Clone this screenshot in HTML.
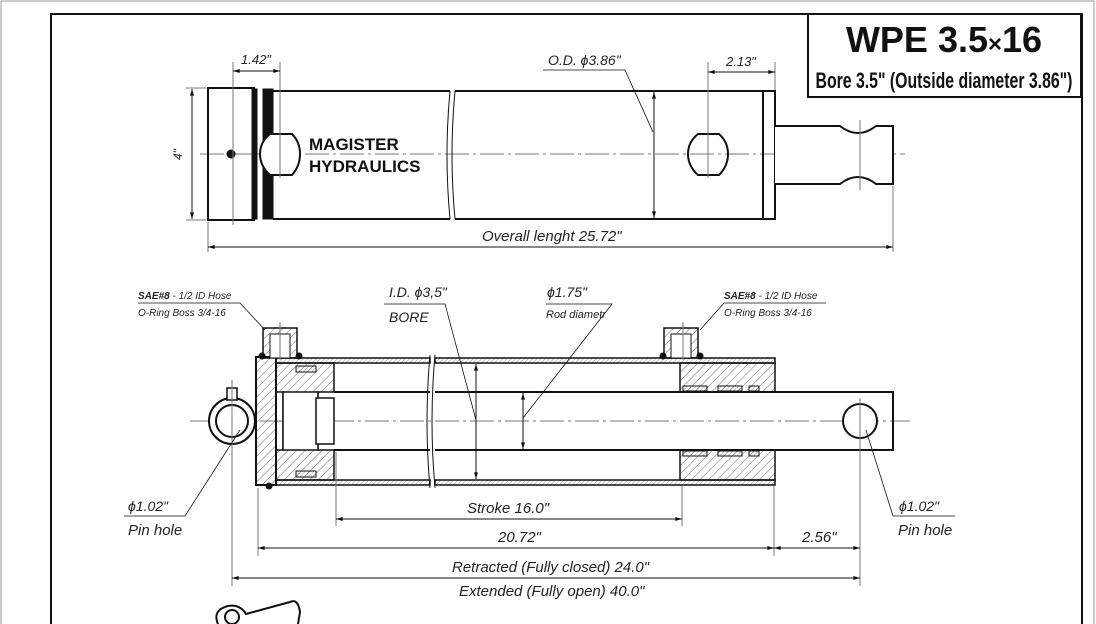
<!DOCTYPE html>
<html><head><style>
html,body{margin:0;padding:0;background:#fff;}
svg{display:block;}
.t{font-family:"Liberation Sans",sans-serif;font-style:italic;fill:#222;}
</style></head><body>
<svg width="1096" height="624" viewBox="0 0 1096 624" xmlns="http://www.w3.org/2000/svg">
<defs>
<pattern id="h" width="6" height="6" patternUnits="userSpaceOnUse" patternTransform="rotate(45)"><line x1="0" y1="0" x2="0" y2="6" stroke="#444" stroke-width="0.8"/></pattern>
<pattern id="hf" width="3" height="3" patternUnits="userSpaceOnUse" patternTransform="rotate(45)"><line x1="0" y1="0" x2="0" y2="3" stroke="#555" stroke-width="0.6"/></pattern>
<marker id="a" viewBox="0 0 10 6" refX="10" refY="3" markerWidth="10" markerHeight="4" orient="auto-start-reverse" markerUnits="userSpaceOnUse"><path d="M0,0 L10,3 L0,6z" fill="#111"/></marker>
</defs>
<rect x="0" y="0" width="1096" height="624" fill="#fff"/>
<path d="M1,624 V1 H1094 V624" fill="none" stroke="#999" stroke-width="1"/>
<!-- frame -->
<path d="M51,624 V14 H1082 V624" fill="none" stroke="#111" stroke-width="2"/>
<rect x="808" y="14" width="273" height="83" fill="#fff" stroke="#111" stroke-width="2"/>
<text x="944" y="52" text-anchor="middle" font-family="Liberation Sans,sans-serif" font-weight="bold" font-size="36" fill="#111">WPE 3.5<tspan font-size="24">×</tspan>16</text>
<text x="944" y="88" text-anchor="middle" font-family="Liberation Sans,sans-serif" font-weight="bold" font-size="22" fill="#111" transform="translate(944 0) scale(0.72 1) translate(-944 0)">Bore 3.5" (Outside diameter 3.86")</text>

<g stroke="#111" fill="none">
<!-- TOP VIEW -->
<line x1="200" y1="154" x2="905" y2="154" stroke="#777" stroke-width="1" stroke-dasharray="24 4 3 4"/>
<rect x="208" y="88" width="46" height="132" stroke-width="2"/>
<rect x="252" y="89" width="5" height="130" fill="#111"/>
<rect x="263" y="89" width="10" height="130" fill="#111"/>
<path d="M273,91 H450 M273,219 H450 M455,91 H775 V219 H455" stroke-width="2"/>
<path d="M450,91 Q444,155 450,219 M455,91 Q449,155 455,219" stroke-width="1"/>
<line x1="763" y1="91" x2="763" y2="219" stroke-width="2"/>
<path d="M775,126 H840 Q849,133 858,133 Q867,133 876,126 H893 V184 H876 Q867,177 858,177 Q849,177 840,184 H775" stroke-width="2" fill="#fff"/>
<line x1="860" y1="120" x2="860" y2="190" stroke="#777"/>
<path d="M270,134 H292 Q300,142 300,154 Q300,166 292,175 H270 Q260,166 260,154 Q260,142 270,134z" stroke-width="2" fill="#fff"/>
<path d="M698,134 H719 Q728,142 728,154 Q728,166 719,175 H698 Q688,166 688,154 Q688,142 698,134z" stroke-width="2"/>
<circle cx="231" cy="154" r="4" fill="#111"/>
<line x1="233" y1="62" x2="233" y2="225" stroke="#777"/>
<line x1="280" y1="62" x2="280" y2="178" stroke="#777"/>
<line x1="708" y1="62" x2="708" y2="178" stroke="#777"/>
<line x1="775" y1="62" x2="775" y2="90" stroke="#777"/>
<line x1="893" y1="186" x2="893" y2="252" stroke="#777"/>
<line x1="208" y1="222" x2="208" y2="252" stroke="#777"/>
<line x1="186" y1="88" x2="206" y2="88" stroke="#777"/>
<line x1="186" y1="220" x2="206" y2="220" stroke="#777"/>
<line x1="192" y1="89" x2="192" y2="219" stroke-width="1" marker-start="url(#a)" marker-end="url(#a)"/>
<line x1="233" y1="71" x2="280" y2="71" stroke-width="1" marker-start="url(#a)" marker-end="url(#a)"/>
<line x1="708" y1="72" x2="775" y2="72" stroke-width="1" marker-start="url(#a)" marker-end="url(#a)"/>
<line x1="654" y1="92" x2="654" y2="218" stroke-width="1" marker-start="url(#a)" marker-end="url(#a)"/>
<path d="M543,70 H625 L653,132" stroke-width="0.8"/>
<line x1="208" y1="247" x2="893" y2="247" stroke-width="1" marker-start="url(#a)" marker-end="url(#a)"/>
</g>
<text x="241" y="64" class="t" font-size="13">1.42"</text>
<text x="182" y="160" class="t" font-size="12" transform="rotate(-90 182 160)">4"</text>
<text x="548" y="65" class="t" font-size="14">O.D. ϕ3.86"</text>
<text x="726" y="66" class="t" font-size="13">2.13"</text>
<text x="482" y="241" class="t" font-size="15">Overall lenght 25.72"</text>
<text x="309" y="150" font-family="Liberation Sans,sans-serif" font-weight="bold" font-size="17" fill="#111">MAGISTER</text>
<text x="309" y="172" font-family="Liberation Sans,sans-serif" font-weight="bold" font-size="17" fill="#111">HYDRAULICS</text>

<!-- SECTION VIEW -->
<g stroke="#111" fill="none">
<line x1="190" y1="421" x2="910" y2="421" stroke="#777" stroke-dasharray="24 4 3 4"/>
<rect x="276" y="358" width="154" height="5" fill="url(#hf)" stroke-width="1.5"/>
<rect x="435" y="358" width="340" height="5" fill="url(#hf)" stroke-width="1.5"/>
<rect x="276" y="480" width="154" height="5" fill="url(#hf)" stroke-width="1.5"/>
<rect x="435" y="480" width="340" height="5" fill="url(#hf)" stroke-width="1.5"/>
<path d="M430,355 Q424,421 430,488 M435,355 Q429,421 435,488" stroke-width="1"/>
<rect x="256" y="357" width="20" height="128" fill="url(#h)" stroke-width="2"/>
<path d="M276,363 H334 V392 H318 V450 H334 V480 H276 V450 H283 V392 H276z" fill="url(#h)" stroke-width="1.5"/>
<rect x="296" y="366" width="20" height="6" fill="url(#hf)"/>
<rect x="296" y="471" width="20" height="6" fill="url(#hf)"/>
<rect x="283" y="392" width="35" height="58" fill="#fff" stroke-width="1.5"/>
<rect x="316" y="398" width="18" height="46" fill="#fff" stroke-width="1.5"/>
<path d="M334,392 H430 M435,392 H893 V450 H435 M430,450 H334" stroke-width="2"/>
<path d="M680,363 H775 V392 H680z" fill="url(#h)" stroke-width="1.5"/>
<path d="M680,450 H775 V480 H680z" fill="url(#h)" stroke-width="1.5"/>
<rect x="683" y="386" width="24" height="5" fill="url(#hf)"/><rect x="718" y="386" width="24" height="5" fill="url(#hf)"/><rect x="749" y="386" width="10" height="5" fill="url(#hf)"/>
<rect x="683" y="451" width="24" height="5" fill="url(#hf)"/><rect x="718" y="451" width="24" height="5" fill="url(#hf)"/><rect x="749" y="451" width="10" height="5" fill="url(#hf)"/>
<circle cx="860" cy="421" r="17" fill="#fff" stroke-width="2"/>
<line x1="860" y1="398" x2="860" y2="586" stroke="#777"/>
<rect x="263" y="328" width="34" height="30" fill="url(#h)" stroke-width="1.5"/>
<rect x="270" y="334" width="20" height="24" fill="#fff" stroke-width="1"/>
<rect x="664" y="328" width="34" height="30" fill="url(#h)" stroke-width="1.5"/>
<rect x="671" y="334" width="20" height="24" fill="#fff" stroke-width="1"/>
<circle cx="262" cy="356" r="3" fill="#111"/><circle cx="299" cy="356" r="3" fill="#111"/>
<circle cx="663" cy="356" r="3" fill="#111"/><circle cx="700" cy="356" r="3" fill="#111"/>
<circle cx="269" cy="486" r="3" fill="#111"/>
<line x1="280" y1="322" x2="280" y2="360" stroke="#777"/>
<line x1="683" y1="322" x2="683" y2="360" stroke="#777"/>
<circle cx="232" cy="421" r="23" fill="#fff" stroke-width="2"/>
<circle cx="232" cy="421" r="16" stroke-width="2"/>
<rect x="227" y="388" width="10" height="12" fill="#fff" stroke-width="1.5"/>
<line x1="232" y1="380" x2="232" y2="586" stroke="#777"/>
<line x1="258" y1="488" x2="258" y2="556" stroke="#777"/>
<line x1="336" y1="452" x2="336" y2="526" stroke="#777"/>
<line x1="682" y1="486" x2="682" y2="526" stroke="#777"/>
<line x1="774" y1="486" x2="774" y2="556" stroke="#777"/>
<line x1="476" y1="364" x2="476" y2="479" stroke-width="1" marker-start="url(#a)" marker-end="url(#a)"/>
<line x1="523" y1="393" x2="523" y2="449" stroke-width="1" marker-start="url(#a)" marker-end="url(#a)"/>
<line x1="336" y1="519" x2="682" y2="519" stroke-width="1" marker-start="url(#a)" marker-end="url(#a)"/>
<line x1="258" y1="548" x2="774" y2="548" stroke-width="1" marker-start="url(#a)" marker-end="url(#a)"/>
<line x1="774" y1="548" x2="860" y2="548" stroke-width="1" marker-start="url(#a)" marker-end="url(#a)"/>
<line x1="232" y1="578" x2="860" y2="578" stroke-width="1" marker-start="url(#a)" marker-end="url(#a)"/>
<path d="M384,304 H445 L476,420" stroke-width="0.8"/>
<path d="M546,304 H612 L523,418" stroke-width="0.8"/>
<path d="M138,303 H240 L265,330" stroke-width="0.8"/>
<path d="M724,303 H826 M724,303 L700,330" stroke-width="0.8"/>
<path d="M124,516 H185 L240,430" stroke-width="0.8"/>
<path d="M955,516 H893 L866,430" stroke-width="0.8"/>
<path d="M218,624 Q212,610 228,606 Q240,604 246,614 L290,602 Q298,598 300,612 L298,624" stroke-width="2"/>
<circle cx="232" cy="617" r="7" stroke-width="2"/>
</g>
<text x="138" y="299" class="t" font-size="10" font-weight="bold">SAE#8 <tspan font-weight="normal">- 1/2 ID Hose</tspan></text>
<text x="138" y="316" class="t" font-size="10">O-Ring Boss 3/4-16</text>
<text x="724" y="299" class="t" font-size="10" font-weight="bold">SAE#8 <tspan font-weight="normal">- 1/2 ID Hose</tspan></text>
<text x="724" y="316" class="t" font-size="10">O-Ring Boss 3/4-16</text>
<text x="389" y="297" class="t" font-size="14">I.D. ϕ3,5"</text>
<text x="389" y="322" class="t" font-size="14">BORE</text>
<text x="547" y="297" class="t" font-size="14">ϕ1.75"</text>
<text x="546" y="318" class="t" font-size="11">Rod diametr</text>
<text x="128" y="511" class="t" font-size="14">ϕ1.02"</text>
<text x="128" y="535" class="t" font-size="15">Pin hole</text>
<text x="899" y="511" class="t" font-size="14">ϕ1.02"</text>
<text x="898" y="535" class="t" font-size="15">Pin hole</text>
<text x="467" y="513" class="t" font-size="15">Stroke 16.0"</text>
<text x="498" y="542" class="t" font-size="15">20.72"</text>
<text x="802" y="542" class="t" font-size="15">2.56"</text>
<text x="452" y="572" class="t" font-size="15">Retracted (Fully closed) 24.0"</text>
<text x="459" y="596" class="t" font-size="15">Extended (Fully open) 40.0"</text>
</svg>
</body></html>
